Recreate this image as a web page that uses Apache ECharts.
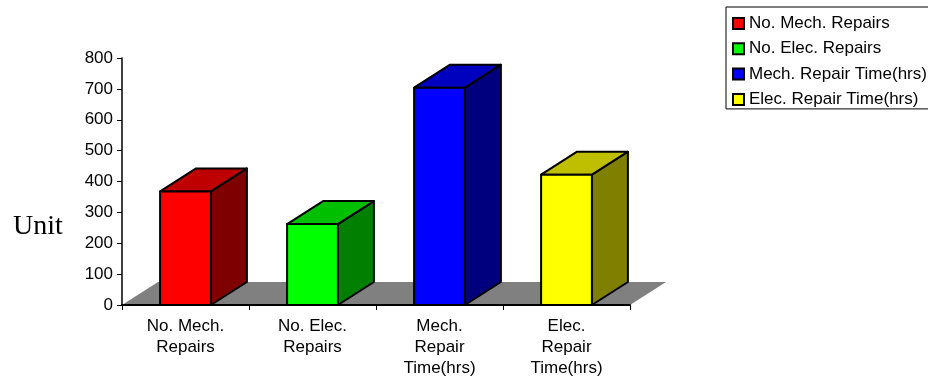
<!DOCTYPE html>
<html>
<head>
<meta charset="utf-8">
<style>html,body{margin:0;padding:0;background:#fff}#chart{width:928px;height:377px}</style>
<script src="https://cdn.jsdelivr.net/npm/echarts@6/dist/echarts.min.js"></script>
</head>
<body>
<div id="chart"></div>
<script>
// Repair statistics shown as pseudo-3D columns on a grey floor.
const categories = ['No. Mech.\nRepairs', 'No. Elec.\nRepairs', 'Mech.\nRepair\nTime(hrs)', 'Elec.\nRepair\nTime(hrs)'];
const seriesNames = ['No. Mech. Repairs', 'No. Elec. Repairs', 'Mech. Repair Time(hrs)', 'Elec. Repair Time(hrs)'];
const values = [368, 262, 704, 422];
const frontColors = ['#ff0000', '#00ff00', '#0000ff', '#ffff00'];
const topColors = ['#bf0000', '#00bf00', '#0000bf', '#bfbf00'];
const sideColors = ['#7f0000', '#007f00', '#00007f', '#7f7f00'];
const yTicks = { min: 0, max: 800, interval: 100 };
const unitLabel = 'Unit';

// Oblique projection offset of the depth axis, and the column share of a band.
const DEPTH_X = 36;
const DEPTH_Y = 23;
const BAR_SHARE = 0.4;

const edge = { stroke: '#000', lineWidth: 2, lineJoin: 'round' };

function face(points, fill, withEdge) {
  return {
    type: 'polygon',
    shape: { points: points },
    style: withEdge ? Object.assign({ fill: fill }, edge) : { fill: fill }
  };
}

function columnRenderer(i) {
  return function (params, api) {
    const top = api.coord([api.value(0), api.value(1)]);
    const base = api.coord([api.value(0), 0]);
    const half = api.size([1, 0])[0] * BAR_SHARE / 2;
    const l = top[0] - half, r = top[0] + half, t = top[1], b = base[1];
    return {
      type: 'group',
      children: [
        face([[r, b], [r + DEPTH_X, b - DEPTH_Y], [r + DEPTH_X, t - DEPTH_Y], [r, t]], sideColors[i], true),
        face([[l, t], [r, t], [r + DEPTH_X, t - DEPTH_Y], [l + DEPTH_X, t - DEPTH_Y]], topColors[i], true),
        face([[l, b], [r, b], [r, t], [l, t]], frontColors[i], true)
      ]
    };
  };
}

function floorRenderer(params) {
  const c = params.coordSys;
  const b = c.y + c.height, l = c.x, r = c.x + c.width;
  return face([[l, b], [r, b], [r + DEPTH_X, b - DEPTH_Y], [l + DEPTH_X, b - DEPTH_Y]], '#808080', false);
}

const columnSeries = seriesNames.map((name, i) => ({
  type: 'custom',
  name: name,
  z: 3,
  itemStyle: { color: frontColors[i] },
  encode: { x: 0, y: 1 },
  data: [[i, values[i]]],
  renderItem: columnRenderer(i)
}));

const chart = echarts.init(document.getElementById('chart'), null, { renderer: 'canvas' });
chart.setOption({
  animation: false,
  backgroundColor: '#fff',
  textStyle: { fontFamily: '"Liberation Sans", Arial, sans-serif', color: '#000' },
  title: {
    text: unitLabel,
    left: 13,
    top: 213,
    padding: 0,
    textStyle: { fontFamily: '"Liberation Serif", "Times New Roman", serif', fontSize: 28, fontWeight: 'normal', color: '#000' }
  },
  grid: { left: 122, right: 298, top: 58, bottom: 72, containLabel: false, outerBoundsMode: 'none' },
  legend: {
    data: seriesNames.map(name => ({ name: name, icon: 'rect' })),
    orient: 'vertical',
    left: 726,
    top: 7,
    padding: [8, 6, 1, 6],
    itemWidth: 11,
    itemHeight: 11,
    itemGap: 8.3,
    borderColor: '#000',
    borderWidth: 1,
    itemStyle: { borderColor: '#000', borderWidth: 2 },
    textStyle: { fontSize: 17, color: '#000', fontFamily: '"Liberation Sans", Arial, sans-serif' }
  },
  xAxis: {
    type: 'category',
    data: categories,
    z: 10,
    axisLine: { lineStyle: { color: '#000', width: 2 } },
    axisTick: { show: true, length: 5, alignWithLabel: false, lineStyle: { color: '#000', width: 1 } },
    axisLabel: { color: '#000', fontSize: 17, lineHeight: 21, margin: 11, interval: 0 },
    splitLine: { show: false }
  },
  yAxis: {
    type: 'value',
    min: yTicks.min,
    max: yTicks.max,
    interval: yTicks.interval,
    z: 10,
    axisLine: { show: true, lineStyle: { color: '#000', width: 1.5 } },
    axisTick: { show: true, length: 5, lineStyle: { color: '#000', width: 1 } },
    axisLabel: { color: '#000', fontSize: 17, margin: 9 },
    splitLine: { show: false }
  },
  series: [{
    type: 'custom',
    name: 'floor',
    z: 1,
    silent: true,
    data: [[0, 0]],
    encode: { x: 0, y: 1 },
    renderItem: floorRenderer
  }].concat(columnSeries)
});
</script>
</body>
</html>
